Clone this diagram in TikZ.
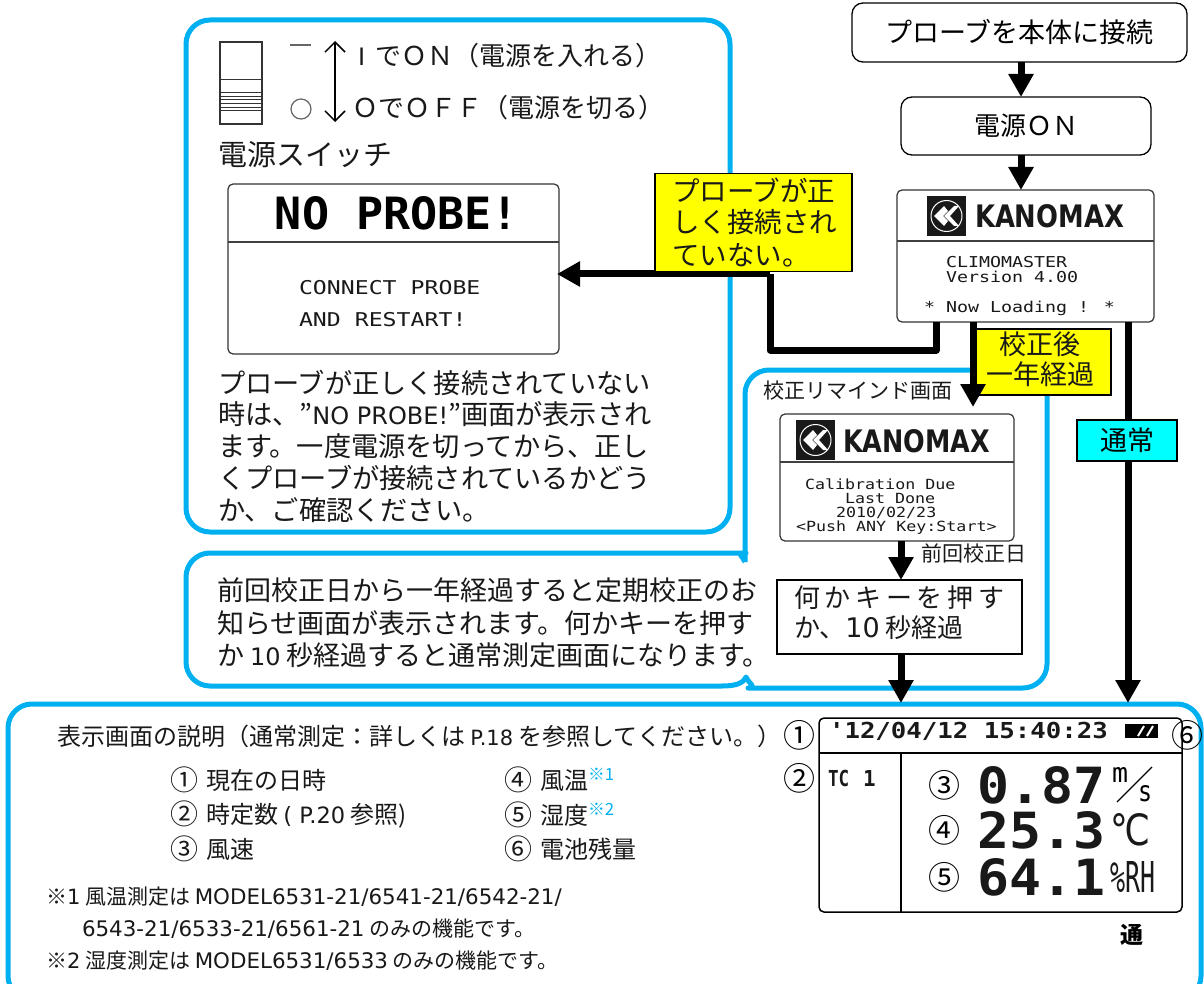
\documentclass[tikz,border=0pt]{standalone}
\usepackage{fontspec}
\usepackage{graphicx}
\usetikzlibrary{arrows.meta,calc}
\setmainfont{Noto Sans CJK JP}
\newfontfamily\vlat{DejaVu Sans}
\newfontfamily\lcdf{DejaVu Sans Mono}
\newcommand\fs[1]{\fontsize{#1}{#1}\selectfont}
\newcommand\lcdt[3]{\scalebox{#2}[1]{\fontsize{#1}{#1}\selectfont\lcdf #3}}
\newcommand\lcdbox[3]{\resizebox{#1pt}{#2pt}{\fontsize{30}{30}\selectfont\lcdf\bfseries #3}}
\newcommand\circnum[1]{\makebox[36pt][l]{\raisebox{-1pt}{\fs{28}#1}}}
\definecolor{panelblue}{HTML}{00B0F0}
\definecolor{flagyellow}{HTML}{FFFF00}
\definecolor{flagcyan}{HTML}{00FFFF}
\tikzset{
  panel/.style={draw=panelblue,line width=5pt,rounded corners=24pt},
  txt/.style={anchor=west,inner sep=0pt,outer sep=0pt,text=black!90},
  flowbox/.style={draw=black,line width=1.3pt,fill=white,rounded corners=11pt,inner sep=0pt,outer sep=0pt},
  screen/.style={draw=black!80,line width=1.2pt,fill=white,rounded corners=5pt,inner sep=0pt,outer sep=0pt},
  flag/.style={draw=black,line width=1.8pt,inner sep=0pt,outer sep=0pt},
  thin rule/.style={draw=black!75,line width=1.1pt},
  flow/.style={line width=7pt,-{Triangle[width=24pt,length=23pt]}},
  route/.style={line width=7pt,line join=round},
}
\newcommand\logomark[3]{%
  \fill[black!90] (#2,#3) rectangle ++(39,40);
  \draw[white,line width=1pt] (#2+19.5,#3+20) circle (15.5);
  \fill[white] (#2+17,#3+10) -- (#2+7,#3+20) -- (#2+17,#3+30) -- (#2+21,#3+25) -- (#2+16,#3+20) -- (#2+21,#3+15) -- cycle;
  \fill[white] (#2+27,#3+10) -- (#2+17,#3+20) -- (#2+27,#3+30) -- (#2+32,#3+30) -- (#2+23,#3+20) -- (#2+32,#3+10) -- cycle;
}
\begin{document}
\begin{tikzpicture}[x=1pt,y=-1pt]
\useasboundingbox (0,0) rectangle (1204,984);
\fill[white] (0,0) rectangle (1204,984);
\clip (0,0) rectangle (1204,984);

% panels
\draw[panel] (186,20) rectangle (730,532);
\draw[panel] (8,704) rectangle (1201,1000);
\draw[draw=panelblue,line width=5pt,line join=round]
  (745,562) [rounded corners=24pt] -- (745,370) -- (1047,370) -- (1047,688) -- (772,688)
  [sharp corners] .. controls (758,688) and (749,684) .. (746,677)
  .. controls (743,684) and (734,686) .. (722,686)
  [rounded corners=24pt] -- (186,686) -- (186,553) -- (722,553)
  [sharp corners] .. controls (735,553) and (743,556) .. (745,562);

% flow boxes
\node[flowbox,minimum width=335pt,minimum height=59pt,font=\fs{27}] (connect) at (1019.5,32.5) {プローブを本体に接続};
\node[flowbox,minimum width=250pt,minimum height=58pt,font=\fs{26}] (poweron) at (1026,126) {電源ＯＮ};

% start screen
\node[screen,minimum width=257pt,minimum height=132pt] (start) at (1025.5,256) {};
\draw[thin rule] (start.west |- 0,241) -- (start.east |- 0,241);
\logomark{s}{927}{196}
\node[txt] (startbrand) at (975,216) {\resizebox{149pt}{23pt}{\fontsize{30}{30}\selectfont\vlat\bfseries KANOMAX}};
\node[txt] (startl1) at (946,262) {\lcdt{15}{1.22}{CLIMOMASTER}};
\node[txt] (startl2) at (946,277) {\lcdt{15}{1.22}{Version 4.00}};
\node[txt] (startl3) at (924,308) {\lcdt{15}{1.22}{* Now Loading ! *}};

% no probe screen
\node[screen,minimum width=331pt,minimum height=170pt] (noprobe) at (393.5,269) {};
\draw[thin rule] (noprobe.west |- 0,242) -- (noprobe.east |- 0,242);
\node[inner sep=0pt] (noprobet) at (397,213.5) {\lcdbox{244}{33}{NO PROBE!}};
\node[txt] (np1) at (299,288) {\lcdt{19}{1.22}{CONNECT PROBE}};
\node[txt] (np2) at (299,320) {\lcdt{19}{1.22}{AND RESTART!}};

% switch
\draw[black!80,line width=1.2pt] (220,42) rectangle (262,124);
\foreach \yy in {80,93,97,100,104,108,111} \draw[black!80,line width=1pt] (220,\yy) -- (262,\yy);
\draw[black!60,line width=1.2pt] (290,45) -- (311,45);
\draw[black!60,line width=1.2pt] (301,109) circle (10);
\coordinate (swtop) at (335,41);
\coordinate (swbot) at (335,122);
\draw[line width=1.5pt,{Straight Barb[length=10pt,width=20pt]}-{Straight Barb[length=10pt,width=20pt]}] (swtop) -- (swbot);
\node[txt,font=\fs{26}] (swon) at (358,56) {{\vlat\fs{24}I}\hspace{10pt}でＯＮ（電源を入れる）};
\node[txt,font=\fs{26}] (swoff) at (352,108) {ＯでＯＦＦ（電源を切る）};
\node[txt,font=\fs{29}] (swname) at (218,155) {電源スイッチ};

% paragraph 1
\node[txt,font=\fs{27.2}] (p1) at (218,383) {プローブが正しく接続されていない};
\node[txt,font=\fs{27.2}] (p2) at (218,414) {時は、”{\vlat\fs{24}NO PROBE!}”画面が表示され};
\node[txt,font=\fs{27.2}] (p3) at (218,446) {ます。一度電源を切ってから、正し};
\node[txt,font=\fs{27.2}] (p4) at (218,478) {くプローブが接続されているかどう};
\node[txt,font=\fs{27.2}] (p5) at (218,510) {か、ご確認ください。};

% paragraph 2
\node[txt,font=\fs{27}] (q1) at (217,590) {前回校正日から一年経過すると定期校正のお};
\node[txt,font=\fs{27}] (q2) at (217,623) {知らせ画面が表示されます。何かキーを押す};
\node[txt,font=\fs{27}] (q3) at (217,655) {か {\vlat\fs{24}10} 秒経過すると通常測定画面になります。};

% reminder screen
\node[txt,font=\fs{21}] (remt) at (763,391) {校正リマインド画面};
\node[screen,minimum width=234pt,minimum height=127pt] (remind) at (897,477.5) {};
\draw[thin rule] (remind.west |- 0,462) -- (remind.east |- 0,462);
\logomark{r}{796}{420}
\node[txt] (rembrand) at (843,441) {\resizebox{147pt}{23pt}{\fontsize{30}{30}\selectfont\vlat\bfseries KANOMAX}};
\node[txt] (rem1) at (805,484) {\lcdt{14}{1.19}{Calibration Due}};
\node[txt] (rem2) at (845,498) {\lcdt{14}{1.19}{Last Done}};
\node[txt] (rem3) at (836,513) {\lcdt{14}{1.19}{2010/02/23}};
\node[txt] (rem4) at (796,528) {\lcdt{14}{1.19}{<Push ANY Key:Start>}};
\node[txt,font=\fs{21}] (remd) at (921,553) {前回校正日};
\node[draw=black,line width=2pt,inner sep=0pt,outer sep=0pt,fill=white,minimum width=245pt,minimum height=74pt] (anykey) at (899.5,617) {};
\node[txt,font={\fs{26}\addfontfeature{LetterSpace=18}}] (k1) at (794,598) {何かキーを押す};
\node[txt,font=\fs{26}] (k2) at (794,628) {か、{\vlat\fs{27}10} 秒経過};

% connectors and flags
\coordinate (xmain) at (1021,0);
\coordinate (xdue) at (973,0);
\coordinate (xnorm) at (1128,0);
\coordinate (xrem) at (901,0);
\draw[flow] (xmain |- connect.south) -- (xmain |- poweron.north);
\draw[flow] (xmain |- poweron.south) -- (xmain |- start.north);
\coordinate (xerr) at (936,0);
\coordinate (xbend) at (770,0);
\draw[route] (xerr |- start.south) -- (xerr |- 0,350) -- (xbend |- 0,350) -- (xbend |- 0,274);
\draw[flow,shorten >=-2pt] (xbend |- 0,274) -- (noprobe.east |- 0,274);
\draw[flow] (xnorm |- start.south) -- (xnorm |- 0,703);
\draw[flow] (xrem |- remind.south) -- (xrem |- anykey.north);
\draw[flow] (xrem |- anykey.south) -- (xrem |- 0,703);

\node[flag,fill=flagyellow,minimum width=197pt,minimum height=98pt] (flagerr) at (753.5,222.5) {};
\node[txt,font=\fs{27.5}] (e1) at (672,190) {プローブが正};
\node[txt,font=\fs{27.5}] (e2) at (672,222) {しく接続され};
\node[txt,font=\fs{27.5}] (e3) at (672,255) {ていない。};
\node[flag,fill=flagyellow,minimum width=135pt,minimum height=66pt] (flagdue) at (1043.5,362) {};
\node[font=\fs{27},inner sep=0pt,text=black!90] (d1) at (1040,344) {校正後};
\node[font=\fs{27},inner sep=0pt,text=black!90] (d2) at (1040,374) {一年経過};
\draw[flow,shorten >=7pt] (xdue |- start.south) -- (xdue |- remind.north);
\node[flag,fill=flagcyan,minimum width=100pt,minimum height=41pt,font=\fs{27}] (flagnorm) at (1127,440.5) {通常};

% explanation
\node[txt,font=\fs{24}] (h) at (57,736) {表示画面の説明（通常測定：詳しくは {\vlat\fs{21}P.18} を参照してください。）};
\node[txt,font=\fs{24}] (i1) at (170,780) {\circnum{①}現在の日時};
\node[txt,font=\fs{24}] (i2) at (170,815) {\circnum{②}時定数 {\vlat\fs{22.5}( P.20} 参照)};
\node[txt,font=\fs{24}] (i3) at (170,849) {\circnum{③}風速};
\node[txt,font=\fs{24}] (i4) at (504,780) {\circnum{④}風温\textsuperscript{\color{panelblue}※1}};
\node[txt,font=\fs{24}] (i5) at (504,815) {\circnum{⑤}湿度\textsuperscript{\color{panelblue}※2}};
\node[txt,font=\fs{24}] (i6) at (504,849) {\circnum{⑥}電池残量};
\node[txt,font=\fs{21}] (n1) at (46,897) {※{\vlat 1} 風温測定は {\vlat\fs{21.4}MODEL6531-21/6541-21/6542-21/}};
\node[txt,font=\fs{21}] (n2) at (82,929) {{\vlat\fs{21.4}6543-21/6533-21/6561-21} のみの機能です。};
\node[txt,font=\fs{21}] (n3) at (46,961) {※{\vlat 2} 湿度測定は {\vlat\fs{21.4}MODEL6531/6533} のみの機能です。};

% display
\node[screen,minimum width=363pt,minimum height=194pt,draw=black,line width=1.5pt] (disp) at (1000.5,815) {};
\draw[black,line width=1.3pt] (disp.west |- 0,753) -- (disp.east |- 0,753);
\draw[black,line width=1.3pt] (901,753) -- (901,912);
\node[font=\fs{32},inner sep=0pt] (c1) at (799,735) {①};
\node[font=\fs{32},inner sep=0pt] (c2) at (799,778) {②};
\node[font=\fs{32},inner sep=0pt] (c6) at (1187,735) {⑥};
\node[font=\fs{32},inner sep=0pt] (c3) at (944,785) {③};
\node[font=\fs{32},inner sep=0pt] (c4) at (944,830) {④};
\node[font=\fs{32},inner sep=0pt] (c5) at (944,877) {⑤};
\node[txt] (dt) at (829,731) {\lcdt{22}{1.17}{\bfseries '12/04/12 15:40:23}};
\fill[black] (1125,724) rectangle (1158,738);
\foreach \xx in {1143,1152} \draw[white,line width=2pt] (\xx-5,736) -- (\xx+1,726);
\node[txt] (tc) at (828,778) {\scalebox{0.8}[1]{\fontsize{22}{22}\selectfont\lcdf\bfseries TC}\hspace{14pt}\lcdt{22}{0.95}{\bfseries 1}};
\node[txt] (v1) at (977,785) {\lcdbox{128}{37}{0.87}};
\node[txt] (v2) at (977,830) {\lcdbox{128}{37}{25.3}};
\node[txt] (v3) at (977,877) {\lcdbox{128}{37}{64.1}};
\node[inner sep=0pt] (um) at (1120,774.5) {\resizebox{16pt}{15pt}{\fontsize{20}{20}\selectfont\lcdf m}};
\node[inner sep=0pt] (us) at (1145,794) {\resizebox{14pt}{16pt}{\fontsize{20}{20}\selectfont\lcdf s}};
\draw[black,line width=1.3pt] (1117,802) -- (1152,767);
\node[txt] (ut) at (1110,830) {\resizebox{40pt}{32pt}{\fontsize{30}{30}\selectfont\vlat ℃}};
\node[txt] (urh) at (1110,877) {\resizebox{45pt}{31pt}{\fontsize{30}{30}\selectfont\lcdf \%RH}};
\node[font={\fs{23}\bfseries},inner sep=0pt] (tsu) at (1132,935) {通};
\end{tikzpicture}
\end{document}
